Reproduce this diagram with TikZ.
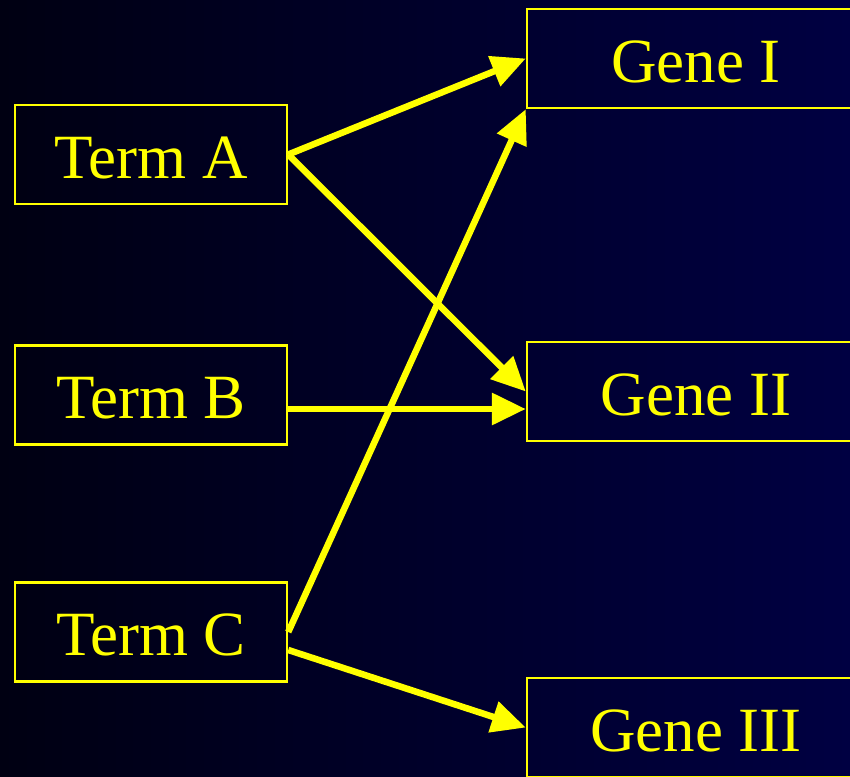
\documentclass[tikz,border=0pt]{standalone}
\usepackage{fontspec}
\setmainfont{Liberation Serif}
\newfontfamily\timesfont{Liberation Serif}
\usetikzlibrary{arrows.meta,calc}
\definecolor{bgleft}{RGB}{0,0,18}
\definecolor{bgright}{RGB}{0,0,66}
\definecolor{ylw}{RGB}{255,255,0}
\begin{document}
\begin{tikzpicture}[x=1pt,y=-1pt,
  termbox/.style={draw=ylw,line width=2.5pt,text=ylw,minimum width=272pt,minimum height=99pt,inner sep=0pt,text height=47pt,text depth=0pt,font=\timesfont\fontsize{63}{70}\selectfont},
  genebox/.style={termbox,minimum width=338pt},
  link/.style={draw=ylw,line width=6.5pt,-{Triangle[length=34pt,width=31pt]}}]
\useasboundingbox (0,0) rectangle (850,776);
\shade[left color=bgleft,right color=bgright] (0,0) rectangle (850,776);
\clip (0,0) rectangle (850,776);
\node[termbox] (a) at (151,154.5) {Term A};
\node[termbox] (b) at (151,395) {Term B};
\node[termbox] (c) at (151,632) {Term C};
\node[genebox] (g1) at (696,58.5) {Gene I};
\node[genebox] (g2) at (696,391.5) {Gene II};
\node[genebox] (g3) at (696,727.5) {Gene III};
\draw[link] (a.east) -- (g1.west);
\draw[link] (a.east) -- (g2.west);
\draw[link] ($(b.east)+(0,14)$) -- ($(g2.west)+(0,17.5)$);
\draw[link] (c.east) -- (g1.south west);
\draw[link] ($(c.east)+(0,18)$) -- (g3.west);
\end{tikzpicture}
\end{document}
